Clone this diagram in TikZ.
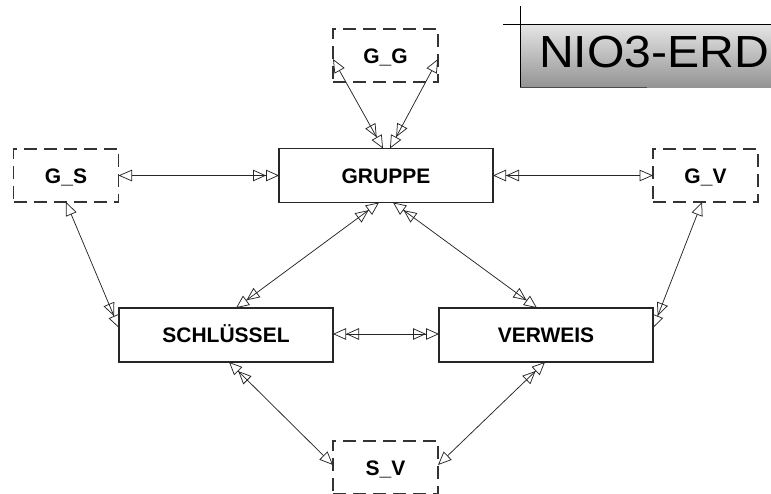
\documentclass[tikz,border=0pt]{standalone}
\usepackage{fontspec}
\setmainfont{Liberation Sans}
\newfontfamily\titlefont[FakeStretch=1.07]{Liberation Sans}
\usetikzlibrary{arrows.meta}
\tikzset{
  one/.tip={Triangle[open,length=13.5pt,width=11.5pt]},
  many/.tip={Triangle[open,length=13pt,width=11.5pt] Triangle[open,length=13pt,width=11.5pt]},
  labelfont/.style={font=\bfseries\fontsize{21}{24}\selectfont, text height=15pt, text depth=0pt},
  entity/.style={draw=black!85, line width=1.2pt, minimum width=214pt, minimum height=54pt,
    inner sep=0pt, outer sep=0pt, labelfont},
  relbox/.style={draw=black!80, line width=1.2pt, dash pattern=on 13pt off 7pt,
    minimum width=105pt, minimum height=53pt, inner sep=0pt, outer sep=0pt, labelfont},
  link/.style={draw=black!85, line width=0.75pt},
  titlebox/.style={top color=black!10, bottom color=black!42, draw=none,
    minimum width=251pt, minimum height=63pt, inner sep=0pt, outer sep=0pt, anchor=north west},
}
\begin{document}
\begin{tikzpicture}[x=1pt,y=-1pt]
\useasboundingbox (0,0) rectangle (771,493);
% title
\node[titlebox] (title) at (520,24) {};
\node[anchor=base west, inner sep=0pt, font=\titlefont\fontsize{45}{50}\selectfont] (titletext) at (539,67) {NIO3-ERD};
\coordinate (tl1) at (503,24);
\coordinate (tr1) at (771,24);
\coordinate (tv1) at (520,6);
\coordinate (tv2) at (520,87);
\coordinate (tb2) at (647,87);
\draw[line width=0.9pt, black] (tl1) -- (tr1);
\draw[line width=0.9pt, black] (tv1) -- (tv2);
\draw[line width=1pt, black!70] (tv2) -- (tb2);

% boxes
\node[relbox] (gg) at (385.5,55.5) {G\_G};
\node[relbox] (gs) at (66,175.5) {G\_S};
\node[entity] (gruppe) at (386,175.5) {GRUPPE};
\node[relbox] (gv) at (705.5,175.5) {G\_V};
\node[entity] (schl) at (226,335) {SCHLÜSSEL};
\node[entity] (verw) at (546,335) {VERWEIS};
\node[relbox] (sv) at (385.5,467.5) {S\_V};

% connectors
\draw[link, one-many] ([yshift=-3.5pt]gg.west) -- ([xshift=-3pt]gruppe.north);
\draw[link, one-many] ([yshift=-3.5pt]gg.east) -- ([xshift=4pt]gruppe.north);
\draw[link, one-many] (gs.east) -- (gruppe.west);
\draw[link, one-many] (gv.west) -- (gruppe.east);
\draw[link, one-many] (gs.south) -- ([yshift=7pt]schl.west);
\draw[link, one-many] ([xshift=-3.5pt]gv.south) -- ([yshift=7pt]verw.east);
\draw[link, many-many] ([xshift=-7pt]gruppe.south) -- ([xshift=10pt]schl.north);
\draw[link, many-many] ([xshift=7pt]gruppe.south) -- ([xshift=-9pt]verw.north);
\draw[link, many-many] ([yshift=1pt]schl.east) -- ([yshift=1pt]verw.west);
\draw[link, one-many] ([yshift=2.5pt]sv.west) -- ([xshift=3pt]schl.south);
\draw[link, one-many] ([yshift=2.5pt]sv.east) -- ([xshift=-1pt]verw.south);
\end{tikzpicture}
\end{document}
